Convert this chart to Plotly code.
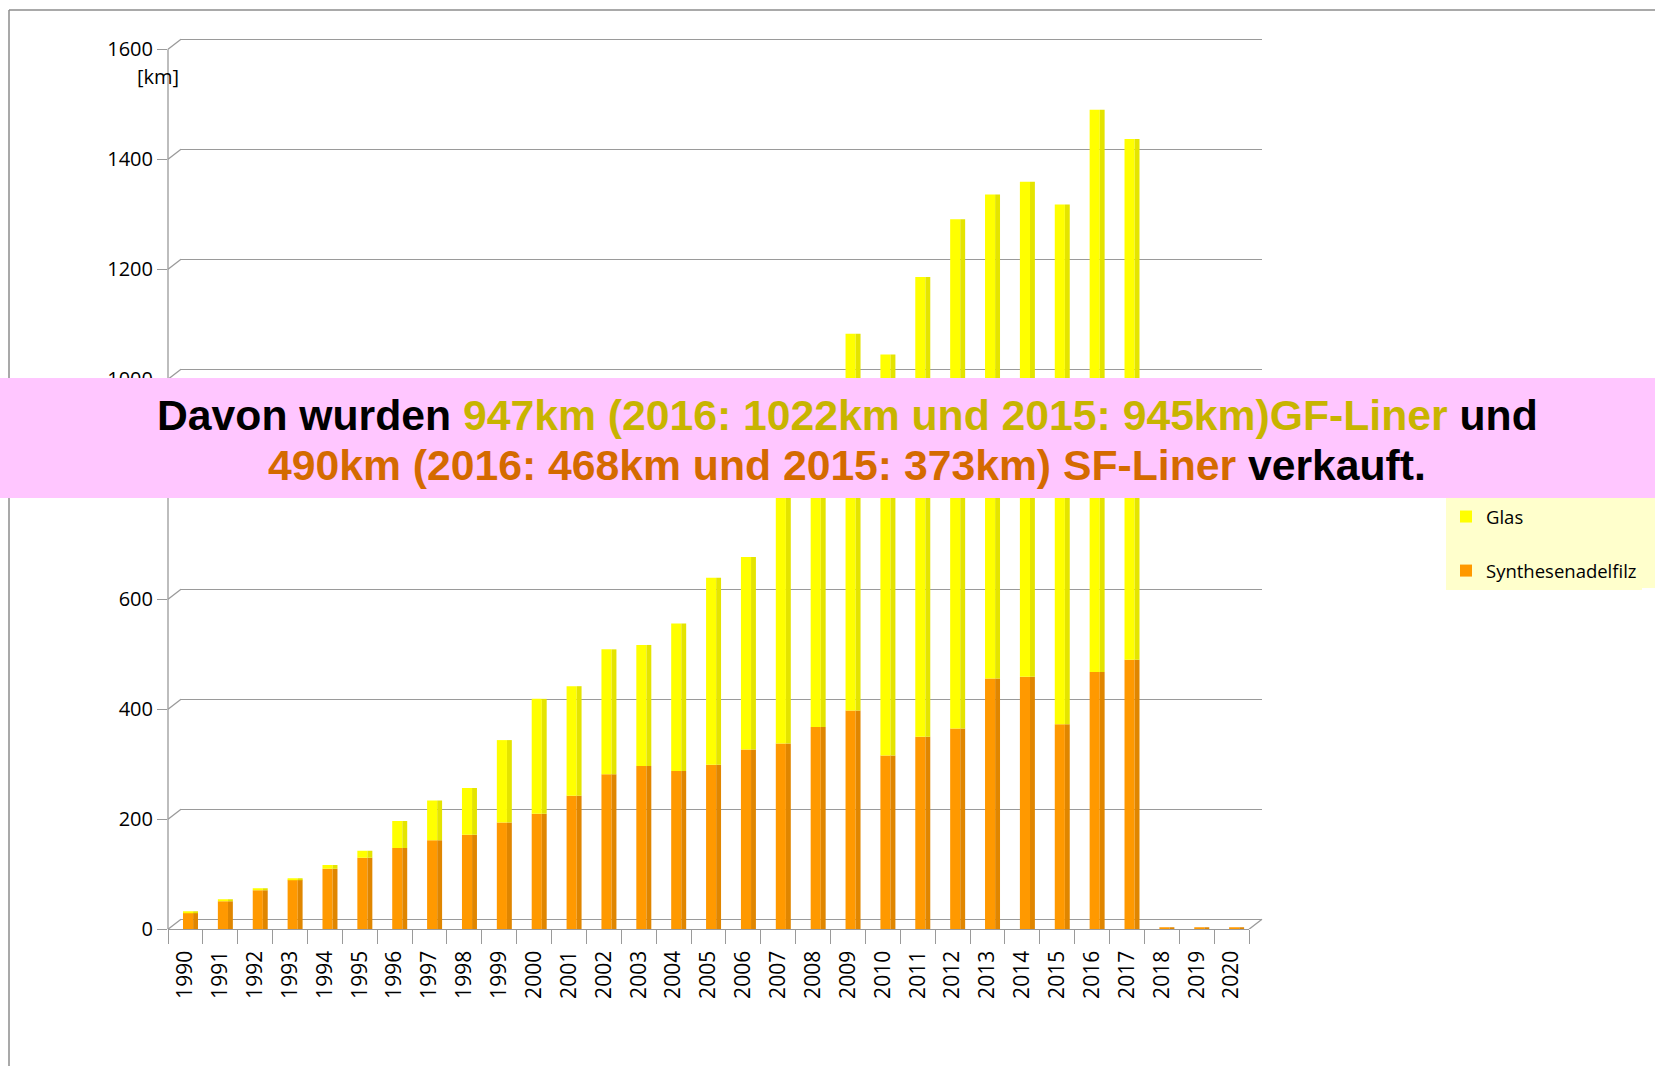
import plotly.graph_objects as go

# ---------------- data ----------------
years = ["1990", "1991", "1992", "1993", "1994", "1995", "1996", "1997", "1998", "1999",
         "2000", "2001", "2002", "2003", "2004", "2005", "2006", "2007", "2008", "2009",
         "2010", "2011", "2012", "2013", "2014", "2015", "2016", "2017", "2018", "2019", "2020"]
synthesenadelfilz = [30, 51, 71, 90, 110, 130, 148, 162, 172, 194,
                     210, 243, 282, 297, 288, 299, 327, 338, 368, 398,
                     316, 350, 365, 456, 459, 373, 468, 490, 2, 2, 2]
glas = [2, 2, 2, 2, 7, 13, 49, 72, 85, 150,
        209, 199, 227, 220, 268, 340, 350, 542, 592, 685,
        729, 836, 926, 880, 900, 945, 1022, 947, 0, 0, 0]
y_ticks = [0, 200, 400, 600, 800, 1000, 1200, 1400, 1600]

# ---------------- geometry helpers ----------------
W, H = 1655, 1069
def px(x):
    return x / W
def py(y):
    return 1 - y / H

Y_MAX = 1640
SHIFT = 18.2          # 3D depth offset of the back wall, in value units
FRONT = [px(168), px(1249)]
BACK = [px(181), px(1262)]
YDOM = [py(929.3), py(27.3)]

TICK_FONT = dict(family="Open Sans, Lato, sans-serif", size=20, color="#000000")
XTICK_FONT = dict(family="Open Sans, Lato, sans-serif", size=21, color="#000000")
GRID = "#9a9a9a"
LEGEND_BG = "#FFFFCC"

# bar faces (front + darker right side) in category units
FRONT_W, FRONT_OFF = 0.29, -0.07
SIDE_W, SIDE_OFF = 0.14, 0.22

fig = go.Figure()

# dummy trace to create the back-wall subplot
fig.add_trace(go.Scatter(x=[], y=[], xaxis="x", yaxis="y", showlegend=False, hoverinfo="skip"))

# front faces
fig.add_trace(go.Bar(
    x=years, y=synthesenadelfilz, name="Synthesenadelfilz",
    marker=dict(color="#FF9900", line=dict(width=0)),
    width=FRONT_W, offset=FRONT_OFF, xaxis="x2", yaxis="y2",
    legendgroup="s", legendrank=2,
))
fig.add_trace(go.Bar(
    x=years, y=glas, base=synthesenadelfilz, name="Glas",
    marker=dict(color="#FFFF00", line=dict(width=0)),
    width=FRONT_W, offset=FRONT_OFF, xaxis="x2", yaxis="y2",
    legendgroup="g", legendrank=1,
))
# right side faces
fig.add_trace(go.Bar(
    x=years, y=synthesenadelfilz, name="Synthesenadelfilz",
    marker=dict(color="#E08600", line=dict(width=0)),
    width=SIDE_W, offset=SIDE_OFF, xaxis="x2", yaxis="y2",
    legendgroup="s", showlegend=False,
))
fig.add_trace(go.Bar(
    x=years, y=glas, base=synthesenadelfilz, name="Glas",
    marker=dict(color="#E4E400", line=dict(width=0)),
    width=SIDE_W, offset=SIDE_OFF, xaxis="x2", yaxis="y2",
    legendgroup="g", showlegend=False,
))

shapes = []
# legend background continuing to the right edge
shapes.append(dict(type="rect", xref="paper", yref="paper", x0=px(1446), x1=1,
                   y0=py(588), y1=py(498), fillcolor=LEGEND_BG,
                   line=dict(width=0), layer="below"))
# left axis line of the front
shapes.append(dict(type="line", xref="paper", yref="y2", x0=FRONT[0], x1=FRONT[0],
                   y0=y_ticks[0], y1=y_ticks[-1], line=dict(color=GRID, width=1.3)))
# diagonals connecting front ticks to back wall gridlines
for v in y_ticks:
    shapes.append(dict(type="line", xref="paper", yref="y2", x0=FRONT[0], x1=BACK[0],
                       y0=v, y1=v + SHIFT, line=dict(color=GRID, width=1.3)))
# right floor diagonal
shapes.append(dict(type="line", xref="paper", yref="y2", x0=FRONT[1], x1=BACK[1],
                   y0=0, y1=SHIFT, line=dict(color=GRID, width=1.3)))
# outer frame
shapes.append(dict(type="line", xref="paper", yref="paper", x0=px(9), x1=1.0,
                   y0=py(10), y1=py(10), line=dict(color="#8c8c8c", width=1.5)))
shapes.append(dict(type="line", xref="paper", yref="paper", x0=px(9), x1=px(9),
                   y0=py(10), y1=py(1066), line=dict(color="#8c8c8c", width=1.5)))
# pink banner
shapes.append(dict(type="rect", xref="paper", yref="paper", x0=0, x1=1,
                   y0=py(498), y1=py(378), fillcolor="#FFC6FF",
                   line=dict(width=0), layer="above"))

OLIVE = "#C8B400"
ORANGE_T = "#D46A00"
line1 = ("<b>Davon wurden <span style='color:%s'>947km (2016: 1022km und 2015: 945km)GF-Liner</span> und</b>"
         % OLIVE)
line2 = ("<b><span style='color:%s'>490km (2016: 468km und 2015: 373km) SF-Liner</span> verkauft.</b>"
         % ORANGE_T)

BANNER_FONT = dict(family="Liberation Sans, Arial, sans-serif", size=42.7, color="#000000")
annotations = [
    dict(text=line1, xref="paper", yref="paper", x=px(847), y=py(415), showarrow=False,
         xanchor="center", yanchor="middle", font=BANNER_FONT),
    dict(text=line2, xref="paper", yref="paper", x=px(847), y=py(465), showarrow=False,
         xanchor="center", yanchor="middle", font=BANNER_FONT),
    dict(text="[km]", xref="paper", yref="paper", x=px(158), y=py(76), showarrow=False,
         xanchor="center", yanchor="middle", font=TICK_FONT),
]

fig.update_layout(
    width=W, height=H,
    margin=dict(l=0, r=0, t=0, b=0, autoexpand=False),
    paper_bgcolor="#FFFFFF",
    plot_bgcolor="rgba(0,0,0,0)",
    barmode="overlay",
    showlegend=True,
    legend=dict(
        x=px(1446), y=py(498), xanchor="left", yanchor="top",
        bgcolor=LEGEND_BG, borderwidth=0,
        font=dict(family="Open Sans, Lato, sans-serif", size=18.5, color="#000000"),
        traceorder="grouped", tracegroupgap=27,
    ),
    # back wall (gridlines)
    xaxis=dict(domain=BACK, anchor="y", showticklabels=False, showgrid=False,
               zeroline=False, showline=False, ticks="", range=[0, 1], fixedrange=True),
    yaxis=dict(domain=YDOM, anchor="x", range=[-SHIFT, Y_MAX - SHIFT],
               tickvals=y_ticks, showticklabels=False, showgrid=True, gridcolor=GRID,
               gridwidth=1.3, zeroline=False, showline=False, ticks=""),
    # front axes with bars
    xaxis2=dict(domain=FRONT, anchor="y2", type="category", categoryorder="array",
                categoryarray=years, tickangle=-90, tickfont=XTICK_FONT,
                showline=True, linecolor=GRID, linewidth=1.3,
                ticks="outside", tickson="boundaries", ticklen=14, tickcolor=GRID,
                tickwidth=1.3, ticklabelstandoff=12, showgrid=False, zeroline=False),
    yaxis2=dict(domain=YDOM, anchor="x2", range=[0, Y_MAX], tickvals=y_ticks,
                tickfont=TICK_FONT, ticks="outside", ticklen=10, tickcolor=GRID,
                tickwidth=1.3, showgrid=False, zeroline=False, showline=False),
    shapes=shapes,
    annotations=annotations,
)

fig.write_html("out.html", config={"displayModeBar": False},
               post_script="document.body.style.margin='0';")
